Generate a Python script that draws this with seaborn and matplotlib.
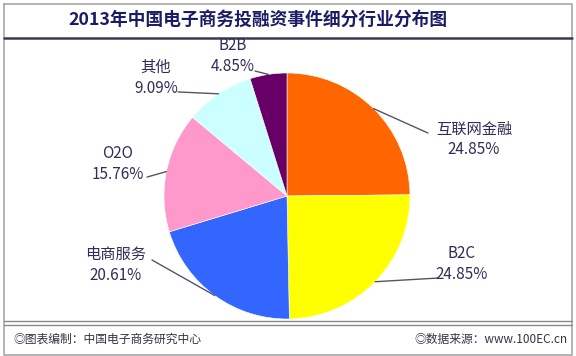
import matplotlib
matplotlib.use("Agg")
import numpy as np
import matplotlib.pyplot as plt
import seaborn as sns

# ---- data ----
categories = ["互联网金融", "B2C", "电商服务", "O2O", "其他", "B2B"]
shares = [24.85, 24.85, 20.61, 15.76, 9.09, 4.85]
slice_colors = ["#FF6600", "#FFFF00", "#3366FF", "#FF99CC", "#CCFFFF", "#660066"]

title_text = "2013年中国电子商务投融资事件细分行业分布图"
footer_left = "◎图表编制：中国电子商务研究中心"
footer_right = "◎数据来源：www.100EC.cn"

# label layout (pie units, radius = 1): leader end and text centre
leader_ends = [(1.146, 0.512), (1.228, -0.667), (-1.098, -0.52),
               (-1.138, 0.154), (-0.886, 0.846), (-0.26, 1.016)]
label_pos = [(1.52, 0.46), (1.423, -0.553), (-1.39, -0.56),
             (-1.374, 0.26), (-1.065, 0.959), (-0.439, 1.138)]

sns.set_theme(style="white")
plt.rcParams["font.family"] = ["Noto Sans CJK SC", "DejaVu Sans"]

W, H = 576, 356
cx, cy, r = 287, 196, 123

fig = plt.figure(figsize=(W / 100, H / 100), dpi=100)
fig.patch.set_facecolor("white")

# frame / title / footer in pixel coordinates
bg = fig.add_axes([0, 0, 1, 1])
bg.set_xlim(0, W)
bg.set_ylim(H, 0)
bg.axis("off")
bg.plot([4, 572, 572, 4, 4], [4, 4, 355, 355, 4], color="#A8A8A8", lw=1.2)
bg.plot([4, 572], [38, 38], color="#3A3A55", lw=1.8)
bg.plot([4, 572], [321, 321], color="#8A8A8A", lw=1.0)
bg.plot([4, 572], [325, 325], color="#8A8A8A", lw=1.0)
bg.text(258, 20, title_text, ha="center", va="center", fontsize=12.8,
        fontweight="bold", color="#1C1C66")
bg.text(13, 339, footer_left, ha="left", va="center", fontsize=8.5, color="#333344")
bg.text(568, 339, footer_right, ha="right", va="center", fontsize=8.5, color="#333344")

# pie axes, same pixel scale on both axes
ax = fig.add_axes([0, 0, 1, 1], facecolor="none")
wedges, _ = ax.pie(shares, colors=slice_colors, startangle=90, counterclock=False,
                   radius=1, wedgeprops=dict(linewidth=0.4, edgecolor="white"))
ax.set_aspect("auto")
ax.set_xlim(-cx / r, (W - cx) / r)
ax.set_ylim(-(H - cy) / r, cy / r)
ax.axis("off")

for w, name, val, end, pos in zip(wedges, categories, shares, leader_ends, label_pos):
    mid = np.deg2rad((w.theta1 + w.theta2) / 2)
    sx, sy = np.cos(mid), np.sin(mid)
    ax.plot([sx, end[0]], [sy, end[1]], color="#555566", lw=1.0, clip_on=False)
    ax.text(pos[0], pos[1], f"{name}\n{val:.2f}%", ha="center", va="center",
            fontsize=11, color="#2E2E5A", linespacing=1.3)

fig.savefig("out.png", dpi=100)
